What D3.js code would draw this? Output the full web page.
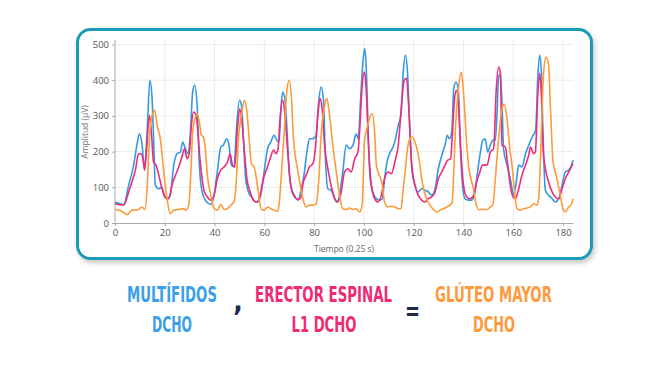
<!DOCTYPE html>
<html lang="es">
<head>
  <meta charset="UTF-8">
  <title>Multífidos, Erector espinal, Glúteo mayor</title>
  <style>
    body {
      margin: 0;
      padding: 0;
      background: #fff;
      font-family: "Open Sans", Arial, sans-serif;
    }
    .grid line {
      stroke: #ececec;
      stroke-width: 1;
    }
    .axis path, .axis line {
      stroke: #aaa;
    }
    .axis text {
      fill: #555;
      font-size: 9.5px;
      font-family: "Open Sans", Arial, sans-serif;
    }
    .series {
      fill: none;
      stroke-width: 1.6;
      stroke-linejoin: round;
    }
    .big {
      font-family: "Liberation Sans Narrow", "DejaVu Sans Condensed", "Arial Narrow", sans-serif;
      font-weight: bold;
      font-size: 22px;
      text-anchor: middle;
    }
  </style>
</head>
<body>
  <svg id="chart" width="672" height="365"></svg>

  <script src="https://d3js.org/d3.v7.min.js"></script>
  <script>
    // tiempo (muestras de 0.25 s) y amplitud en µV
    const multifidos = [
      [0,59],[1.5,55],[3.5,52],[5.5,106],[7.5,162],[8.8,218],[9.8,250],[10.9,218],[11.8,152],[12.9,255],
      [14,400],[14.9,349],[15.5,236],[16.2,106],[17.6,96],[18.9,100],[19.6,78],[20.9,68],[22.2,78],[23.6,162],
      [24.9,194],[26.3,199],[27.2,227],[28.3,208],[29.4,194],[30.3,255],[31.2,367],[32,386],[33,330],[33.9,162],
      [35,87],[36.6,61],[38.5,52],[39.8,78],[41.1,143],[42.5,213],[43.5,218],[44.9,236],[45.8,218],[46.8,162],
      [47.8,157],[48.8,264],[50,344],[50.8,330],[51.6,236],[52.5,124],[53.9,82],[55.2,70],[56.5,59],[57.5,59],
      [58.8,87],[59.9,143],[61.3,208],[62.6,227],[63.9,246],[65,232],[65.9,227],[66.6,311],[67.3,367],[68.2,349],
      [69,274],[70,143],[70.9,96],[72,78],[73.6,64],[74.5,85],[75.7,124],[77.1,199],[78.1,236],[79.5,236],
      [80.8,246],[81.7,330],[82.8,381],[83.7,349],[84.6,171],[85.5,96],[86.8,92],[87.8,78],[89.1,59],[90.2,78],
      [91.5,143],[92.9,218],[94.2,208],[95.6,218],[96.9,250],[97.7,236],[98.7,349],[99.6,451],[100.3,489],[100.9,442],
      [101.6,283],[102.5,124],[103.6,87],[105,68],[106.3,64],[107.4,68],[108.3,124],[109.3,171],[110.6,199],[111.5,210],
      [112.4,227],[113.8,274],[114.9,302],[115.8,423],[116.7,470],[117.5,423],[118.5,255],[119.4,143],[120.5,106],[121.8,87],
      [123.2,96],[124.5,92],[125.9,87],[127.2,78],[128.6,96],[129.9,152],[131.3,190],[132.6,218],[133.5,246],[134.3,236],
      [135.3,255],[136.1,377],[137,395],[138,367],[138.6,236],[139.5,115],[140.6,68],[142,64],[143.3,64],[144.4,78],
      [145.3,124],[146.6,190],[147.8,232],[148.8,235],[149.7,199],[150.8,218],[151.8,232],[152.8,232],[153.5,311],[154.1,409],
      [154.8,416],[155.5,330],[156.1,208],[157.5,162],[158.8,124],[160.2,78],[161.2,115],[162.2,162],[163.5,157],[164.9,194],
      [166.2,218],[167.6,241],[169,260],[169.9,414],[170.6,470],[171.3,423],[172,236],[172.9,92],[174.2,78],[175.6,68],
      [176.9,59],[178.3,68],[179.6,106],[180.9,143],[182.3,148],[183.6,166],[184,176]
    ];

    const erectorEspinal = [
      [0,54],[1.5,52],[3.5,50],[5.5,87],[6.8,115],[8.2,148],[9.5,194],[10.5,194],[11.3,176],[11.9,148],
      [12.7,208],[13.8,302],[14.6,255],[15.5,171],[16.5,162],[17.6,134],[18.9,96],[20.2,73],[21.6,68],[22.9,106],
      [24.3,134],[25.6,157],[26.9,185],[27.9,208],[29,180],[29.9,199],[30.7,274],[31.6,311],[32.3,306],[33.2,264],
      [33.9,199],[35,124],[35.8,90],[37.1,73],[38.5,64],[39.8,78],[41.1,124],[42.5,148],[43.8,157],[45.2,171],
      [46.3,194],[47.2,162],[48.1,157],[49.2,264],[50.1,320],[50.9,292],[51.9,208],[53,124],[54.3,87],[55.6,64],
      [57,59],[58.3,78],[59.6,124],[61,152],[62.3,180],[63.7,204],[64.6,194],[65.5,208],[66.3,292],[67.3,344],
      [68.2,311],[69.3,208],[70.4,115],[71.7,78],[73.6,66],[74.6,70],[75.5,110],[76.8,134],[78.1,157],[79.5,166],
      [80.5,208],[81.5,302],[82.4,349],[83.2,320],[84.2,218],[85.5,152],[86.8,106],[88.2,68],[89.5,59],[90.9,87],
      [92.2,143],[93.5,152],[94.9,143],[96.3,180],[97.6,199],[98.5,283],[99.3,386],[100.3,423],[100.9,377],[101.9,208],
      [103,106],[104.3,68],[105.6,59],[107,78],[108.3,124],[109.7,143],[111.1,138],[112.4,171],[113.8,218],[115.1,330],
      [116.2,400],[117.1,405],[118.1,311],[119.1,171],[120.5,106],[121.8,78],[123.2,64],[124.5,59],[125.9,68],[127.2,73],
      [128.6,87],[129.9,124],[131.3,143],[132.6,162],[133.7,176],[134.8,180],[135.6,255],[136.4,349],[137.2,372],[138,330],
      [138.9,208],[140,106],[141.3,73],[142.7,68],[144.1,78],[145.3,115],[146.6,143],[147.6,162],[149.5,162],[150.8,199],
      [152.1,208],[153.2,377],[154.1,437],[154.8,423],[155.5,218],[156.8,213],[157.8,162],[158.8,106],[159.9,73],[160.8,68],
      [162.2,96],[163.5,134],[164.9,162],[166.2,190],[166.9,213],[168.2,194],[168.9,199],[169.9,367],[170.6,419],[171.3,358],
      [172,208],[172.9,152],[174.2,115],[175.6,87],[176.9,73],[178.3,68],[179.6,96],[180.9,124],[182.3,143],[184,166]
    ];

    const gluteoMayor = [
      [0,38],[2.8,33],[4.8,23],[6.8,36],[8.8,36],[10.9,45],[12,38],[12.9,96],[13.8,236],[14.9,302],
      [16,316],[16.9,274],[18.2,236],[19.6,143],[20.9,68],[22.2,26],[23.6,36],[25.6,38],[27.6,40],[28.5,36],
      [29.6,50],[30.5,143],[31.2,255],[32.3,297],[33,306],[33.9,283],[34.7,246],[35.4,242],[36.2,215],[37.1,134],
      [38.5,78],[39.8,40],[41.1,36],[42.5,52],[43.8,38],[45.2,40],[46.5,50],[47.8,59],[48.8,124],[49.6,236],
      [50.8,302],[51.9,344],[53,311],[53.9,236],[54.8,166],[55.9,157],[57,115],[57.9,68],[58.8,38],[59.9,36],
      [61.3,45],[62.6,40],[63.9,36],[65.3,33],[65.9,50],[66.9,143],[68,255],[69,367],[70,400],[70.9,349],
      [71.7,236],[72.6,180],[73.6,140],[74.6,100],[75.5,68],[76.8,45],[78.1,50],[79.5,50],[80.8,54],[81.9,124],
      [82.8,246],[84.2,330],[85.1,349],[86.2,302],[87.5,218],[88.9,143],[90.2,78],[91.5,40],[92.9,38],[94.2,42],
      [95.6,38],[96.9,40],[98.3,31],[99.3,50],[100.3,236],[101.2,264],[102.2,292],[103.3,306],[104.3,255],[105,162],
      [106,138],[107.4,106],[108.3,59],[109.7,45],[111.1,47],[112.4,45],[113.8,40],[114.9,40],[115.8,96],[116.7,152],
      [117.5,208],[118.5,236],[119.4,241],[120.5,227],[121.6,199],[122.5,162],[123.2,124],[124.3,87],[125.2,68],[126.5,50],
      [127.9,38],[129.2,31],[130.6,36],[131.9,40],[133.3,45],[134.6,50],[135.5,59],[136.1,143],[136.9,283],[138,377],
      [139.1,423],[140,367],[140.9,264],[142,162],[143,124],[144,96],[144.9,59],[146,38],[147.6,38],[149.5,38],
      [150.8,45],[151.8,50],[152.8,124],[154.1,236],[155.5,320],[156.4,333],[157.5,292],[158.6,208],[159.5,162],[160.4,96],
      [161.5,40],[162.8,36],[164.2,40],[165.5,42],[166.9,45],[168.2,54],[169.5,50],[170.2,68],[171.2,236],[172.2,423],
      [173.2,465],[174.2,442],[174.9,330],[176,171],[176.9,143],[177.8,115],[178.9,78],[180,38],[180.9,31],[182.3,45],
      [183.2,50],[184,68]
    ];

    const xTicks = [0, 20, 40, 60, 80, 100, 120, 140, 160, 180];
    const yTicks = [0, 100, 200, 300, 400, 500];

    const svg = d3.select('#chart');

    // tarjeta con borde
    const defs = svg.append('defs');
    const shadow = defs.append('filter').attr('id', 'shadow')
      .attr('x', '-5%').attr('y', '-5%').attr('width', '112%').attr('height', '115%');
    shadow.append('feDropShadow')
      .attr('dx', 2).attr('dy', 3).attr('stdDeviation', 2.5)
      .attr('flood-color', '#000').attr('flood-opacity', 0.22);

    svg.append('rect')
      .attr('x', 77.5).attr('y', 29.5)
      .attr('width', 514).attr('height', 229)
      .attr('rx', 13).attr('ry', 13)
      .attr('fill', '#fff')
      .attr('stroke', '#1b9bb7')
      .attr('stroke-width', 3)
      .attr('filter', 'url(#shadow)');

    const x = d3.scaleLinear().domain([0, 184]).range([115, 573]);
    const y = d3.scaleLinear().domain([0, 500]).range([223, 44.5]);

    // rejilla
    svg.append('g').attr('class', 'grid')
      .selectAll('line.v')
      .data(xTicks.slice(1))
      .enter().append('line')
      .attr('x1', d => x(d)).attr('x2', d => x(d))
      .attr('y1', 40).attr('y2', 223);

    svg.append('g').attr('class', 'grid')
      .selectAll('line.h')
      .data(yTicks.slice(1))
      .enter().append('line')
      .attr('x1', 115).attr('x2', 573)
      .attr('y1', d => y(d)).attr('y2', d => y(d));

    // ejes
    const yAxis = svg.append('g')
      .attr('class', 'axis')
      .attr('transform', 'translate(115,0)')
      .call(d3.axisLeft(y).tickValues(yTicks).tickSize(3).tickSizeOuter(0));
    yAxis.select('.domain').attr('d', 'M0,40V223');

    svg.append('g')
      .attr('class', 'axis')
      .attr('transform', 'translate(0,223)')
      .call(d3.axisBottom(x).tickValues(xTicks).tickSize(3).tickSizeOuter(0));

    svg.append('text')
      .attr('transform', 'translate(88,132) rotate(-90)')
      .attr('text-anchor', 'middle')
      .style('font-size', '8.5px')
      .style('fill', '#777')
      .text('Amplitud (µV)');

    svg.append('text')
      .attr('x', 344).attr('y', 252)
      .attr('text-anchor', 'middle')
      .style('font-size', '8.5px')
      .style('fill', '#666')
      .text('Tiempo (0.25 s)');

    // series
    const line = d3.line()
      .x(d => x(d[0]))
      .y(d => y(d[1]))
      .curve(d3.curveMonotoneX);

    const series = [
      { data: multifidos, color: '#3498e4' },
      { data: erectorEspinal, color: '#ee2d78' },
      { data: gluteoMayor, color: '#fd9a3a' }
    ];

    svg.selectAll('.series')
      .data(series)
      .enter()
      .append('path')
      .attr('class', 'series')
      .attr('d', d => line(d.data))
      .style('stroke', d => d.color);

    // leyenda inferior: cada texto se estrecha con scale() hasta su ancho
    const labels = [
      { text: 'MULTÍFIDOS', x: 172, y: 302, w: 90, size: 22, color: '#3a9fe6' },
      { text: 'DCHO', x: 172, y: 332, w: 40, size: 22, color: '#3a9fe6' },
      { text: 'ERECTOR ESPINAL', x: 323.5, y: 302, w: 137, size: 22, color: '#ef2b74' },
      { text: 'L1 DCHO', x: 324, y: 332, w: 65, size: 22, color: '#ef2b74' },
      { text: 'GLÚTEO MAYOR', x: 493.5, y: 302, w: 117, size: 22, color: '#fd9b3c' },
      { text: 'DCHO', x: 494, y: 332, w: 42, size: 22, color: '#fd9b3c' },
      { text: ',', x: 238, y: 311, w: 0, size: 28, color: '#1a2a48' },
      { text: '=', x: 412.5, y: 320, w: 15, size: 26, color: '#1a2a48' }
    ];

    svg.selectAll('.big')
      .data(labels)
      .enter()
      .append('text')
      .attr('class', 'big')
      .style('font-size', d => d.size + 'px')
      .style('fill', d => d.color)
      .text(d => d.text)
      .each(function (d) {
        const len = this.getComputedTextLength();
        const k = d.w > 0 ? d.w / len : 1;
        d3.select(this).attr('transform', `translate(${d.x},${d.y}) scale(${k},1)`);
      });
  </script>
</body>
</html>
